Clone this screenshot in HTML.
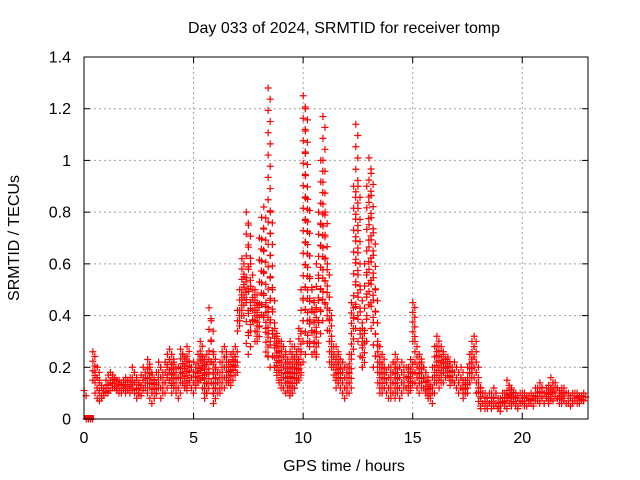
<!DOCTYPE html>
<html><head><meta charset="utf-8"><style>
html,body{margin:0;padding:0;background:#fff;}
svg{display:block;font-family:"Liberation Sans",sans-serif;}
</style></head><body>
<svg id="chart" width="640" height="480" viewBox="0 0 640 480">
<rect x="0" y="0" width="640" height="480" fill="#fff"/>
<text x="344" y="33" font-size="16" text-anchor="middle">Day 033 of 2024, SRMTID for receiver tomp</text>
<text transform="translate(19,238) rotate(-90)" font-size="16" text-anchor="middle">SRMTID / TECUs</text>
<text x="344" y="471" font-size="16" text-anchor="middle">GPS time / hours</text>
<g id="grid"></g>
<g id="ticks"></g>
<g id="marks"></g>
<rect x="84" y="57" width="504" height="362" fill="none" stroke="#000" stroke-width="1"/>
</svg>
<script>
const xTicks=[0,5,10,15,20];
const yTicks=[0,0.2,0.4,0.6,0.8,1,1.2,1.4];
const yTickLabels=["0","0.2","0.4","0.6","0.8","1","1.2","1.4"];
const stepHours=0.1;
const hiValues=[0.11,0.0,0.0,0.0,0.26,0.18,0.2,0.15,0.12,0.12,
0.15,0.17,0.18,0.17,0.16,0.15,0.15,0.14,0.15,0.16,
0.15,0.16,0.2,0.18,0.15,0.14,0.17,0.2,0.16,0.23,
0.2,0.17,0.15,0.18,0.22,0.2,0.16,0.22,0.25,0.27,
0.25,0.22,0.18,0.2,0.27,0.25,0.24,0.28,0.22,0.2,
0.22,0.2,0.25,0.3,0.24,0.23,0.25,0.43,0.38,0.25,
0.2,0.18,0.22,0.26,0.28,0.24,0.22,0.25,0.26,0.28,
0.42,0.5,0.62,0.55,0.8,0.75,0.6,0.5,0.5,0.45,
0.7,0.78,0.82,0.45,1.28,0.8,0.5,0.35,0.32,0.3,
0.3,0.28,0.25,0.22,0.3,0.25,0.28,0.25,0.35,0.5,
1.25,1.2,0.85,0.55,0.5,0.45,0.6,0.8,1.0,1.17,
0.8,0.6,0.42,0.3,0.25,0.28,0.25,0.2,0.22,0.2,
0.2,0.25,0.45,0.9,1.14,0.9,0.5,0.35,0.6,0.9,
1.01,0.95,0.72,0.5,0.3,0.22,0.25,0.2,0.18,0.2,
0.2,0.22,0.25,0.18,0.2,0.22,0.18,0.2,0.2,0.23,
0.45,0.3,0.2,0.25,0.22,0.2,0.18,0.15,0.12,0.2,
0.28,0.32,0.24,0.28,0.25,0.23,0.24,0.2,0.2,0.22,
0.2,0.18,0.2,0.15,0.15,0.2,0.25,0.3,0.32,0.22,
0.14,0.12,0.1,0.1,0.08,0.1,0.1,0.12,0.1,0.08,
0.08,0.1,0.1,0.15,0.13,0.12,0.1,0.1,0.09,0.1,
0.1,0.1,0.09,0.09,0.1,0.09,0.12,0.12,0.14,0.12,
0.1,0.12,0.13,0.16,0.14,0.14,0.12,0.11,0.12,0.12,
0.1,0.1,0.09,0.1,0.1,0.1,0.09,0.09,0.1];
const loValues=[0.09,0,0,0,0.15,0.1,0.08,0.07,0.08,0.09,
0.1,0.11,0.12,0.12,0.11,0.1,0.11,0.1,0.1,0.11,
0.1,0.11,0.12,0.1,0.08,0.1,0.09,0.12,0.1,0.12,
0.06,0.1,0.08,0.1,0.12,0.08,0.1,0.12,0.15,0.13,
0.1,0.12,0.1,0.08,0.14,0.12,0.11,0.13,0.12,0.1,
0.12,0.13,0.14,0.15,0.1,0.08,0.1,0.18,0.1,0.06,
0.12,0.1,0.1,0.14,0.12,0.14,0.13,0.15,0.17,0.18,
0.34,0.38,0.4,0.45,0.25,0.28,0.34,0.38,0.3,0.3,
0.36,0.4,0.35,0.24,0.2,0.3,0.2,0.18,0.15,0.12,
0.12,0.1,0.12,0.09,0.1,0.1,0.12,0.14,0.15,0.18,
0.38,0.25,0.28,0.3,0.25,0.24,0.25,0.33,0.38,0.45,
0.4,0.3,0.2,0.2,0.15,0.12,0.12,0.1,0.08,0.1,
0.1,0.12,0.25,0.35,0.4,0.3,0.2,0.2,0.3,0.4,
0.45,0.35,0.2,0.2,0.12,0.1,0.1,0.12,0.08,0.1,
0.08,0.08,0.1,0.1,0.08,0.1,0.12,0.1,0.11,0.12,
0.3,0.12,0.1,0.12,0.12,0.1,0.09,0.08,0.06,0.1,
0.14,0.15,0.12,0.14,0.16,0.18,0.15,0.13,0.14,0.12,
0.1,0.12,0.1,0.08,0.1,0.12,0.14,0.18,0.16,0.1,
0.05,0.04,0.04,0.05,0.04,0.04,0.05,0.06,0.04,0.03,
0.05,0.05,0.04,0.07,0.06,0.05,0.05,0.04,0.05,0.06,
0.05,0.06,0.05,0.06,0.06,0.05,0.07,0.06,0.07,0.06,
0.06,0.07,0.06,0.08,0.07,0.08,0.06,0.06,0.07,0.06,
0.06,0.06,0.05,0.06,0.07,0.06,0.06,0.07,0.07];

const X0=84,X1=588,Y0=419,Y1=57,XMAX=23,YMAX=1.4;
function xs(h){return X0+(h/XMAX)*(X1-X0);}
function ys(v){return Y0-(v/YMAX)*(Y0-Y1);}
const NS="http://www.w3.org/2000/svg";
function mk(tag,attrs,parent){const e=document.createElementNS(NS,tag);for(const k in attrs)e.setAttribute(k,attrs[k]);parent.appendChild(e);return e;}
const grid=document.getElementById('grid'),ticks=document.getElementById('ticks'),marks=document.getElementById('marks');
yTicks.forEach((v,i)=>{
  const y=ys(v);
  if(i>0&&i<yTicks.length-1){const g=mk('line',{x1:X0,x2:X1,y1:y,y2:y,stroke:'#a0a0a0','stroke-dasharray':'2,3'},grid);
  
  }
  const t=mk('line',{x1:X0,x2:X0+6,y1:y,y2:y,stroke:'#000'},ticks);
  
  
  const t2=mk('line',{x1:X1-6,x2:X1,y1:y,y2:y,stroke:'#000'},ticks);
  
  
  const l=mk('text',{x:X0-13,y:y+5.5,'font-size':'16','text-anchor':'end'},ticks);
  l.textContent=yTickLabels[i];
  
  
});
xTicks.forEach(h=>{
  const x=xs(h);
  if(h>0){const g=mk('line',{x1:x,x2:x,y1:Y1,y2:Y0,stroke:'#a0a0a0','stroke-dasharray':'2,3'},grid);
  
  }
  const t=mk('line',{x1:x,x2:x,y1:Y0,y2:Y0-6,stroke:'#000'},ticks);
  
  
  const t2=mk('line',{x1:x,x2:x,y1:Y1,y2:Y1+6,stroke:'#000'},ticks);
  
  
  const l=mk('text',{x:x,y:Y0+24,'font-size':'16','text-anchor':'middle'},ticks);
  l.textContent=String(h);
  
  
});
let d='';
function plus(x,y){d+=`M${x-3.5},${y}h7M${x},${y-3.5}v7`;}
hiValues.forEach((hi,i)=>{
  const lo=loValues[i];
  const x=xs(i*stepHours+0.05);
  const yh=ys(hi),yl=ys(lo);
  const span=yl-yh;
  const gap=span>60?11:5;
  const n=Math.max(1,Math.round(span/gap));
  for(let k=0;k<=n;k++){plus(x+((k%2)?1:-1),yh+span*k/n);}
});
const p=mk('path',{d:d,stroke:'#ff0000','stroke-width':'1.2',fill:'none'},marks);


const z=mk('rect',{x:xs(0.1)-2,y:Y0-4,width:xs(0.45)-xs(0.1)+2,height:5,fill:'#ff0000'},marks);


</script>
</body></html>
